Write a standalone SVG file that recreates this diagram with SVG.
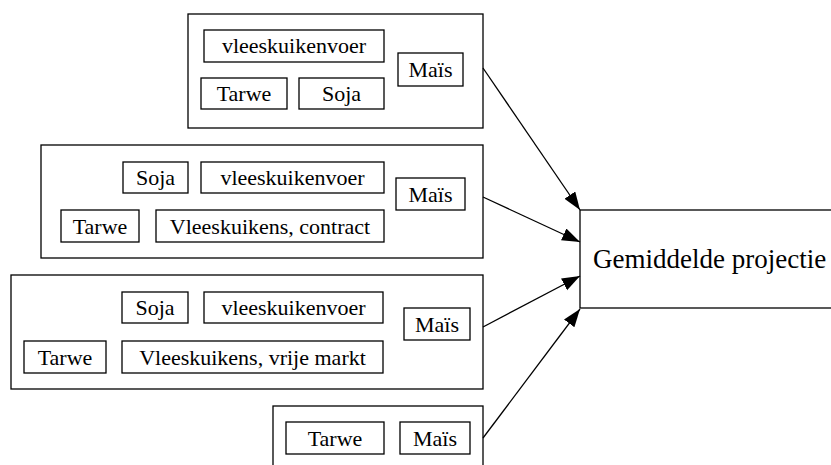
<svg xmlns="http://www.w3.org/2000/svg" width="831" height="465" viewBox="0 0 831 465">
<style>
rect{fill:#fff;stroke:#000;stroke-width:1.3}
text{font-size:22px;fill:#000;text-anchor:middle}
.big{font-size:27px;text-anchor:start}
.edge{stroke:#000;stroke-width:1.3;fill:none;marker-end:url(#ah)}
</style>
<defs>
<marker id="ah" markerUnits="userSpaceOnUse" markerWidth="20" markerHeight="14" refX="18" refY="6.5" orient="auto">
<path d="M0,0 L18,6.5 L0,13 Z" fill="#000"/>
</marker>
</defs>
<rect width="831" height="465" style="stroke:none"/>
<g font-family="'Liberation Serif', 'Times New Roman', 'DejaVu Serif', serif">
<g id="cluster1">
<rect x="188" y="14" width="295" height="114"/>
<g id="c1_vleeskuikenvoer"><rect x="204" y="30" width="180" height="32"/><text x="294" y="53">vleeskuikenvoer</text></g>
<g id="c1_tarwe"><rect x="201" y="78" width="86" height="31"/><text x="244" y="101">Tarwe</text></g>
<g id="c1_soja"><rect x="299" y="78" width="85" height="31"/><text x="341.5" y="101">Soja</text></g>
<g id="c1_mais"><rect x="398" y="53" width="65" height="33"/><text x="430.5" y="77">Maïs</text></g>
</g>
<g id="cluster2">
<rect x="41" y="145" width="442" height="113"/>
<g id="c2_soja"><rect x="123" y="162" width="65" height="31"/><text x="155.5" y="185">Soja</text></g>
<g id="c2_vleeskuikenvoer"><rect x="201" y="162" width="183" height="31"/><text x="292.5" y="185">vleeskuikenvoer</text></g>
<g id="c2_mais"><rect x="396" y="178" width="69" height="32"/><text x="430.5" y="202">Maïs</text></g>
<g id="c2_tarwe"><rect x="61" y="210" width="78" height="32"/><text x="100" y="234">Tarwe</text></g>
<g id="c2_contract"><rect x="156" y="210" width="228" height="32"/><text x="270" y="234">Vleeskuikens, contract</text></g>
</g>
<g id="cluster3">
<rect x="11" y="275" width="472" height="114"/>
<g id="c3_soja"><rect x="122" y="292" width="66" height="31"/><text x="155" y="315">Soja</text></g>
<g id="c3_vleeskuikenvoer"><rect x="204" y="292" width="179" height="31"/><text x="293.5" y="315">vleeskuikenvoer</text></g>
<g id="c3_mais"><rect x="404" y="308" width="66" height="32"/><text x="437" y="332">Maïs</text></g>
<g id="c3_tarwe"><rect x="24" y="341" width="82" height="32"/><text x="65" y="365">Tarwe</text></g>
<g id="c3_vrije"><rect x="122" y="341" width="261" height="32"/><text x="252.5" y="365">Vleeskuikens, vrije markt</text></g>
</g>
<g id="cluster4">
<rect x="273" y="406" width="210" height="100"/>
<g id="c4_tarwe"><rect x="286" y="422" width="98" height="32"/><text x="335" y="446">Tarwe</text></g>
<g id="c4_mais"><rect x="400" y="422" width="70" height="32"/><text x="435" y="446">Maïs</text></g>
</g>
<g id="target">
<rect x="580" y="210" width="300" height="98"/>
<text class="big" x="593" y="268">Gemiddelde projectie</text>
</g>
</g>
<g id="edges">
<path class="edge" d="M483,68 L580,210"/>
<path class="edge" d="M483,197 L580,242"/>
<path class="edge" d="M483,327 L580,276"/>
<path class="edge" d="M483,438 L580,309"/>
</g>
</svg>
